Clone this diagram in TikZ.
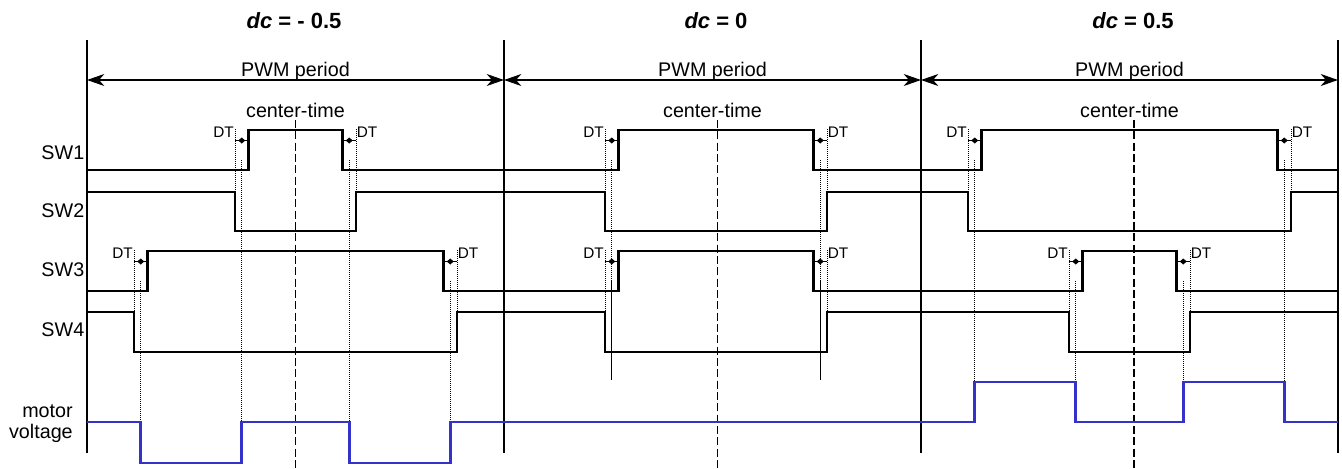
\documentclass[tikz,border=0pt]{standalone}
\usepackage{fontspec}
\setmainfont{Liberation Sans}
\usetikzlibrary{arrows.meta}
\definecolor{motorblue}{HTML}{3333CC}

\begin{document}
\begin{tikzpicture}[
    x=0.75pt,y=-0.75pt,
    waveline/.style={line width=2.2pt},
    voltline/.style={line width=2.2pt,motorblue},
    bndline/.style={line width=1.2pt},
    pwmarrow/.style={{Stealth[length=13pt,width=9pt,inset=4pt]}-{Stealth[length=13pt,width=9pt,inset=4pt]},line width=0.8pt},
    dotguide/.style={line width=0.7pt,dash pattern=on 0.75pt off 0.75pt},
    ctrline/.style={line width=0.8pt,dash pattern=on 6pt off 2.5pt},
    dtline/.style={line width=0.75pt},
    siglabel/.style={font=\fontsize{14.8}{15.75}\selectfont,inner sep=0pt},
    dtlabel/.style={font=\fontsize{11.5}{13}\selectfont,inner sep=0pt},
    dctitle/.style={font=\fontsize{16.5}{19}\selectfont\bfseries,inner sep=0pt}
  ]
  \useasboundingbox (0,0) rectangle (1342,468);

  % period boundaries and PWM period arrows
  \foreach \xb [count=\p from 0] in {87,504,921,1338} {
    \coordinate (bnd\p) at (\xb,80);
    \draw[bndline] (\xb,40) -- (\xb,453);
  }
  \foreach \p/\q in {0/1,1/2,2/3} {
    \draw[pwmarrow] (bnd\p) -- (bnd\q)
      node[siglabel,midway,anchor=base,yshift=3pt] (pwm\q) {PWM period};
    \path (bnd\p) -- (bnd\q)
      node[siglabel,midway,anchor=base,yshift=-27.75pt] (ctr\q) {center-time};
  }

  % titles, center lines and dead-time marks
  \foreach \cx/\ha/\hb/\xd/\yb/\tx/\dc [count=\p] in {295.5/47/148/295.5/422/294/- 0.5,716/97.5/97.5/717.5/380/716/0,1129.5/148/47/1134/382/1133/0.5} {
    \node[dctitle,anchor=base] (title\p) at (\tx,28) {{\itshape dc} = \dc};
    \draw[ctrline] (\xd,120) -- (\xd,468);
    \foreach \hw/\yh/\yl/\yc/\s in {\ha/130/170/192/a,\hb/251/291/312/b} {
      \pgfmathsetmacro\xl{\cx-\hw-13.5}
      \pgfmathsetmacro\xr{\cx+\hw+13.5}
      \pgfmathsetmacro\ml{\cx-\hw-6.75}
      \pgfmathsetmacro\mr{\cx+\hw+6.75}
      \draw[dotguide] (\xl,{\yh-1}) -- (\xl,\yc);
      \draw[dotguide] (\xr,{\yh-1}) -- (\xr,\yc);
      \draw[dotguide] (\ml,{\yl-10}) -- (\ml,\yb);
      \draw[dotguide] (\mr,{\yl-10}) -- (\mr,\yb);
      \draw[dtline] (\xl,{\yh+10.5}) -- ({\cx-\hw},{\yh+10.5});
      \draw[dtline] ({\cx+\hw},{\yh+10.5}) -- (\xr,{\yh+10.5});
      \fill (\ml,{\yh+10.5}) +(-3.5,0) -- +(0,-3) -- +(3.5,0) -- +(0,3) -- cycle;
      \fill (\mr,{\yh+10.5}) +(-3.5,0) -- +(0,-3) -- +(3.5,0) -- +(0,3) -- cycle;
      \node[dtlabel,anchor=base east] (dt\p\s l) at ({\xl-1},{\yh+7}) {DT};
      \node[dtlabel,anchor=base west] (dt\p\s r) at ({\xr+0.5},{\yh+7}) {DT};
    }
  }

  % switch signals
  \foreach \yo/\yp/\dw/\ha/\hb/\hc in {170/130/0/47/97.5/148,192/231/13.5/47/97.5/148,291/251/0/148/97.5/47,312/352/13.5/148/97.5/47}
    \draw[waveline] (87,\yo) \foreach \cx/\hw in {295.5/\ha,716/\hb,1129.5/\hc} {
      -- ({\cx-\hw-\dw},\yo) -- ({\cx-\hw-\dw},\yp) -- ({\cx+\hw+\dw},\yp) -- ({\cx+\hw+\dw},\yo)
    } -- (1338,\yo);

  % motor voltage
  \draw[voltline] (87,422) -| (140.75,463) -| (241.75,422) -| (349.25,463) -| (450.25,422)
    -| (974.75,382) -| (1075.75,422) -| (1183.25,382) -| (1284.25,422) -- (1338,422);

  \node[siglabel,anchor=east] (sw1) at (84.5,153) {SW1};
  \node[siglabel,anchor=east] (sw2) at (84.5,211) {SW2};
  \node[siglabel,anchor=east] (sw3) at (84.5,270) {SW3};
  \node[siglabel,anchor=east] (sw4) at (84.5,330) {SW4};
  \node[siglabel,anchor=east,align=right] (motor) at (73,424) {motor\\voltage};
\end{tikzpicture}
\end{document}
